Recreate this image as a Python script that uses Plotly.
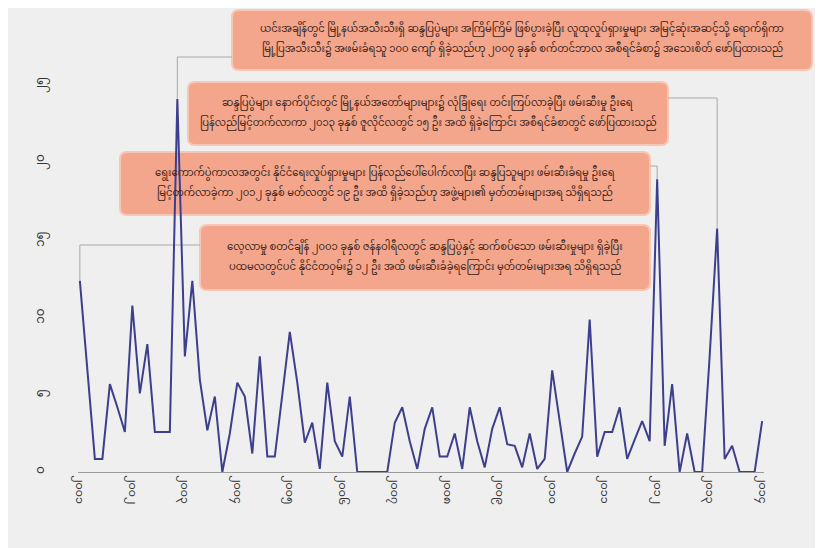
import plotly.graph_objects as go

# ---- data ----
values = [12.4, 6.5, 0.85, 0.85, 5.7, 4.2, 2.6, 10.8, 5.1, 8.3,
          2.6, 2.6, 2.6, 24.2, 7.5, 12.4, 6.0, 2.7, 4.9, 0.0,
          2.5, 5.8, 4.9, 1.2, 7.5, 1.0, 1.0, 5.0, 9.1, 5.8,
          1.9, 3.2, 0.2, 5.8, 2.0, 1.0, 4.9, 0.0, 0.0, 0.0,
          0.0, 0.0, 3.2, 4.2, 2.0, 0.2, 2.8, 4.2, 1.0, 1.0,
          2.5, 0.2, 4.2, 2.0, 0.3, 2.8, 4.2, 1.8, 1.7, 0.3,
          2.5, 0.2, 0.85, 6.6, 3.3, 0.0, 1.2, 2.3, 9.9, 1.0,
          2.6, 2.6, 4.2, 0.85, 2.1, 3.3, 2.0, 19.0, 1.7, 5.7,
          0.0, 2.5, 0.0, 0.0, 7.5, 15.8, 0.85, 1.7, 0.0, 0.0,
          0.0, 3.3]
x_idx = list(range(len(values)))
tick_pos = list(range(0, len(values), 7))
tick_labels = ["၂၀၀၁", "၂၀၀၂", "၂၀၀၃", "၂၀၀၄", "၂၀၀၅", "၂၀၀၆", "၂၀၀၇",
               "၂၀၀၈", "၂၀၀၉", "၂၀၁၀", "၂၀၁၁", "၂၀၁၂", "၂၀၁၃", "၂၀၁၄"]
y_ticks = [0, 5, 10, 15, 20, 25]
y_tick_labels = ["၀", "၅", "၁၀", "၁၅", "၂၀", "၂၅"]

notes = [
    ["ယင်းအချိန်တွင် မြို့နယ်အသီးသီးရှိ ဆန္ဒပြပွဲများ အကြိမ်ကြိမ် ဖြစ်ပွားခဲ့ပြီး လူထုလှုပ်ရှားမှုများ အမြင့်ဆုံးအဆင့်သို့ ရောက်ရှိကာ",
     "မြို့ပြအသီးသီး၌ အဖမ်းခံရသူ ၁၀၀ ကျော် ရှိခဲ့သည်ဟု ၂၀၀၇ ခုနှစ် စက်တင်ဘာလ အစီရင်ခံစာ၌ အသေးစိတ် ဖော်ပြထားသည်"],
    ["ဆန္ဒပြပွဲများ နောက်ပိုင်းတွင် မြို့နယ်အတော်များများ၌ လုံခြုံရေး တင်းကြပ်လာခဲ့ပြီး ဖမ်းဆီးမှု ဦးရေ",
     "ပြန်လည်မြင့်တက်လာကာ ၂၀၁၃ ခုနှစ် ဇူလိုင်လတွင် ၁၅ ဦး အထိ ရှိခဲ့ကြောင်း အစီရင်ခံစာတွင် ဖော်ပြထားသည်"],
    ["ရွေးကောက်ပွဲကာလအတွင်း နိုင်ငံရေးလှုပ်ရှားမှုများ ပြန်လည်ပေါ်ပေါက်လာပြီး ဆန္ဒပြသူများ ဖမ်းဆီးခံရမှု ဦးရေ",
     "မြင့်တက်လာခဲ့ကာ ၂၀၁၂ ခုနှစ် မတ်လတွင် ၁၉ ဦး အထိ ရှိခဲ့သည်ဟု အဖွဲ့များ၏ မှတ်တမ်းများအရ သိရှိရသည်"],
    ["လေ့လာမှု စတင်ချိန် ၂၀၀၁ ခုနှစ် ဇန်နဝါရီလတွင် ဆန္ဒပြပွဲနှင့် ဆက်စပ်သော ဖမ်းဆီးမှုများ ရှိခဲ့ပြီး",
     "ပထမလတွင်ပင် နိုင်ငံတဝှမ်း၌ ၁၂ ဦး အထိ ဖမ်းဆီးခံခဲ့ရကြောင်း မှတ်တမ်းများအရ သိရှိရသည်"],
]
note_peaks = [13, 85, 77, 0]

# ---- layout geometry (pixels, in page coordinates) ----
OFF = 8  # default page margin around the figure
W, H = 815, 540
ML, MR, MT, MB = 70, 59, 48, 76
PW, PH = W - ML - MR, H - MT - MB
XR = [-0.25, len(values) - 1 + 0.25]
YR = [0, 27]

def px2x(px):
    return XR[0] + (px - OFF - ML) / PW * (XR[1] - XR[0])

def py2y(py):
    return YR[0] + (H - MB - (py - OFF)) / PH * (YR[1] - YR[0])

def ppx(px):
    return (px - OFF - ML) / PW

def ppy(py):
    return (H - MB - (py - OFF)) / PH

# boxes: left, right, top, bottom (page px), connector level py, side
boxes = [
    (232, 812, 10, 70, 57, "left"),
    (188, 668, 82, 145, 98, "right"),
    (120, 650, 152, 215, 166, "right"),
    (200, 650, 225, 290, 245, "left"),
]

BOX_FILL = "#F4A68C"
BOX_LINE = "#F8C6B4"
LINE_C = "#3D3F8C"
CONN_C = "#A8A8A8"
FONT = "Noto Sans Myanmar, Padauk, Myanmar Text, Noto Sans, sans-serif"

fig = go.Figure()
fig.add_trace(go.Scatter(x=x_idx, y=values, mode="lines",
                         line=dict(color=LINE_C, width=2), hoverinfo="skip",
                         showlegend=False))

shapes = []
annotations = []

def rounded(x0, x1, y0, y1, r):
    rx, ry = r / PW, r / PH
    return (f"M{x0+rx},{y0} L{x1-rx},{y0} Q{x1},{y0} {x1},{y0+ry} "
            f"L{x1},{y1-ry} Q{x1},{y1} {x1-rx},{y1} L{x0+rx},{y1} "
            f"Q{x0},{y1} {x0},{y1-ry} L{x0},{y0+ry} Q{x0},{y0} {x0+rx},{y0} Z")

for (l, r, t, b, lev, side), lines, pk in zip(boxes, notes, note_peaks):
    xb = px2x(l if side == "left" else r)
    yl = py2y(lev)
    shapes.append(dict(type="path", xref="x", yref="y", layer="below",
                       path=f"M{xb},{yl} L{pk},{yl} L{pk},{values[pk]}",
                       line=dict(color=CONN_C, width=1)))
    shapes.append(dict(type="path", xref="paper", yref="paper", layer="below",
                       path=rounded(ppx(l), ppx(r), ppy(b), ppy(t), 7),
                       fillcolor=BOX_FILL, line=dict(color=BOX_LINE, width=2)))
    mid = (t + b) / 2
    for k, line in enumerate(lines):
        annotations.append(dict(xref="paper", yref="paper",
                                x=(ppx(l) + ppx(r)) / 2,
                                y=ppy(mid - 10 + 20 * k),
                                text=line, showarrow=False,
                                xanchor="center", yanchor="middle",
                                font=dict(family=FONT, size=10, color="#3A2418")))

fig.update_layout(
    width=W, height=H,
    margin=dict(l=ML, r=MR, t=MT, b=MB),
    paper_bgcolor="#EFEFEF",
    plot_bgcolor="rgba(0,0,0,0)",
    shapes=shapes,
    annotations=annotations,
    font=dict(family=FONT, color="#333333"),
    xaxis=dict(range=XR, tickmode="array", tickvals=tick_pos, ticktext=tick_labels,
               tickangle=90, showgrid=False, zeroline=False, showline=True,
               linecolor="#9A9A9A", linewidth=1, ticks="", tickfont=dict(size=11)),
    yaxis=dict(range=YR, tickmode="array", tickvals=y_ticks, ticktext=y_tick_labels,
               tickangle=-90, showgrid=False, zeroline=False, showline=False,
               ticks="outside", ticklen=28, tickcolor="rgba(0,0,0,0)",
               tickfont=dict(size=12)),
)

fig.write_html("out.html")
